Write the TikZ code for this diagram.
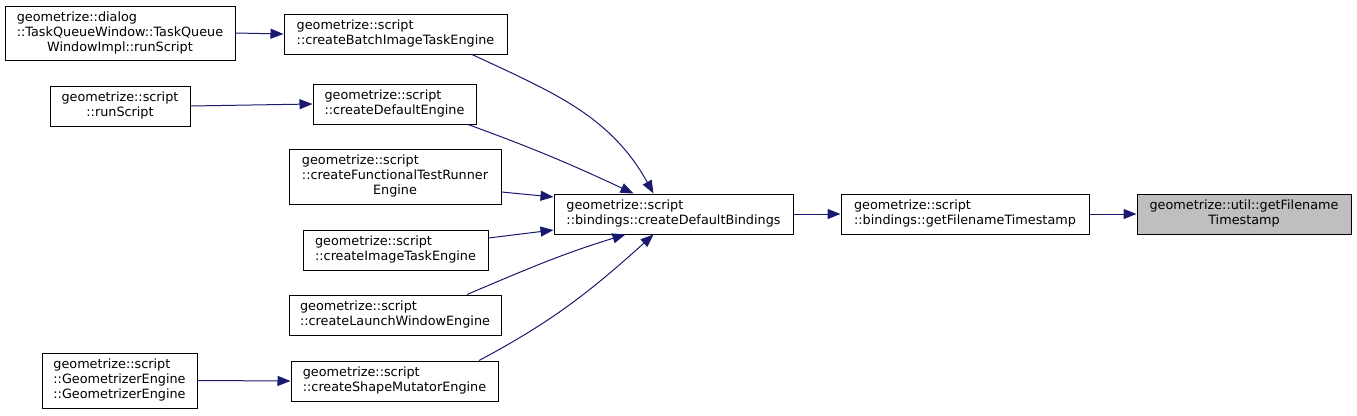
\documentclass[tikz,border=0pt]{standalone}
\usepackage{fontspec}
\setmainfont{DejaVu Sans}
\usetikzlibrary{arrows.meta}
\definecolor{edgeblue}{HTML}{191970}
\definecolor{hlgray}{HTML}{BFBFBF}
% first lines left, last line centred
\newcommand{\cglabel}[2]{\begin{tabular}{@{}l@{}}#1\\\multicolumn{1}{@{}c@{}}{#2}\end{tabular}}
\begin{document}
\begin{tikzpicture}[x=1pt,y=1pt,
    fn/.style={draw=black, line width=1pt, inner sep=0pt, font=\fontsize{12.8}{15}\selectfont},
    hl/.style={fn, fill=hlgray},
    call/.style={edgeblue, line width=1pt, -{Triangle[length=13pt,width=10pt]}}]
    \useasboundingbox (0,0) rectangle (1357,-415);

    % Callers, far left
    \node [fn, minimum width=230, minimum height=54] (tq) at (120,-33)
        {\cglabel{geometrize::dialog\\::TaskQueueWindow::TaskQueue}{WindowImpl::runScript}};
    \node [fn, minimum width=140, minimum height=40] (run) at (120,-106)
        {\cglabel{geometrize::script}{::runScript}};
    \node [fn, minimum width=155, minimum height=55] (geom) at (119.5,-380.5)
        {\cglabel{geometrize::script\\::GeometrizerEngine}{::GeometrizerEngine}};

    % Engine factories
    \node [fn, minimum width=223, minimum height=40] (batch) at (395.5,-34)
        {\cglabel{geometrize::script}{::createBatchImageTaskEngine}};
    \node [fn, minimum width=163, minimum height=40] (defeng) at (394.5,-104)
        {\cglabel{geometrize::script}{::createDefaultEngine}};
    \node [fn, minimum width=212, minimum height=55] (ftr) at (395,-176.5)
        {\cglabel{geometrize::script\\::createFunctionalTestRunner}{Engine}};
    \node [fn, minimum width=185, minimum height=40] (imgtask) at (395.5,-250)
        {\cglabel{geometrize::script}{::createImageTaskEngine}};
    \node [fn, minimum width=212, minimum height=40] (launch) at (395,-315)
        {\cglabel{geometrize::script}{::createLaunchWindowEngine}};
    \node [fn, minimum width=207, minimum height=40] (shape) at (394.5,-381)
        {\cglabel{geometrize::script}{::createShapeMutatorEngine}};

    % Bindings chain
    \node [fn, minimum width=239, minimum height=40] (bind) at (673.5,-214)
        {\cglabel{geometrize::script}{::bindings::createDefaultBindings}};
    \node [fn, minimum width=248, minimum height=40] (gft) at (965,-214)
        {\cglabel{geometrize::script}{::bindings::getFilenameTimestamp}};
    \node [hl, minimum width=214, minimum height=40] (util) at (1244,-214)
        {\cglabel{geometrize::util::getFilename}{Timestamp}};

    % Calls
    \draw [call] (tq.east) -- (batch.west);
    \draw [call] (run.east) -- (defeng.west);
    \draw [call] (geom.east) -- (shape.west);
    \draw [call] ([xshift=76.5]batch.south) to[out=-25,in=119] ([xshift=-20]bind.north);
    \draw [call] ([xshift=73.5]defeng.south) to[out=-20,in=155] ([xshift=-40]bind.north);
    \draw [call] ([yshift=-15.5]ftr.east) -- ([yshift=17]bind.west);
    \draw [call] ([yshift=12]imgtask.east) -- ([yshift=-16]bind.west);
    \draw [call] ([xshift=72]launch.north) to[out=23,in=-163] ([xshift=-48]bind.south);
    \draw [call] ([xshift=84.5]shape.north) to[out=28,in=-138] ([xshift=-20]bind.south);
    \draw [call] (bind) -- (gft);
    \draw [call] (gft) -- (util);
\end{tikzpicture}
\end{document}
